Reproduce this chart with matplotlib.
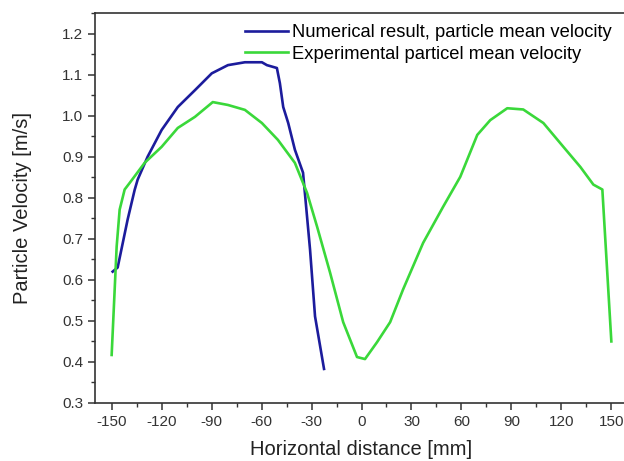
import matplotlib
matplotlib.use("Agg")
from matplotlib import pyplot as plt
from matplotlib.ticker import MultipleLocator

plt.rcParams["font.family"] = ["Liberation Sans", "DejaVu Sans"]
plt.rcParams["axes.unicode_minus"] = False

# numerical result (blue)
num_x = [-149.4, -146.4, -140.4, -136.2, -134.4, -128.4, -120, -110.3, -100, -89.9,
         -80.2, -70, -59.8, -56.8, -50.8, -49, -47, -44, -40, -35.1, -30.9, -27.9, -22.5]
num_y = [0.620, 0.630, 0.747, 0.819, 0.844, 0.900, 0.965, 1.021, 1.062, 1.103,
         1.123, 1.130, 1.130, 1.123, 1.116, 1.079, 1.021, 0.982, 0.917, 0.861, 0.674, 0.511, 0.383]

# experimental (green)
exp_x = [-150, -147, -145.2, -142.2, -139.2, -130.2, -120, -110.3, -100, -89.3, -80.2,
         -70, -59.8, -50.2, -40, -32.7, -26.7, -18.9, -11, -2.7, 2.1, 9.3, 17.2, 25,
         37, 49, 59.3, 69.5, 77.3, 87.5, 97.1, 109.2, 121.2, 131.4, 139.2, 144.6, 150]
exp_y = [0.417, 0.681, 0.771, 0.820, 0.836, 0.885, 0.924, 0.970, 0.997, 1.033, 1.026,
         1.014, 0.982, 0.941, 0.885, 0.812, 0.730, 0.618, 0.497, 0.412, 0.407, 0.448, 0.497, 0.577,
         0.690, 0.778, 0.851, 0.953, 0.989, 1.018, 1.015, 0.982, 0.924, 0.875, 0.832, 0.820, 0.450]

fig = plt.figure(figsize=(6.24, 4.61), dpi=100)
ax = fig.add_axes([95 / 624, 58 / 461, 533 / 624, 390 / 461])

ax.plot(num_x, num_y, color="#1c1c9c", linewidth=1.9,
        label="Numerical result, particle mean velocity")
ax.plot(exp_x, exp_y, color="#3ad83a", linewidth=1.9,
        label="Experimental particel mean velocity")

ax.set_xlim(-160, 160)
ax.set_ylim(0.3, 1.25)
ax.xaxis.set_major_locator(MultipleLocator(30))
ax.xaxis.set_minor_locator(MultipleLocator(15))
ax.yaxis.set_major_locator(MultipleLocator(0.1))
ax.yaxis.set_minor_locator(MultipleLocator(0.05))
ax.yaxis.set_major_formatter(plt.FuncFormatter(lambda v, p: f"{v:.1f}"))

for s in ax.spines.values():
    s.set_color("#333333")
    s.set_linewidth(1.2)
ax.tick_params(which="major", direction="out", length=5, width=1.1, color="#333333",
               labelsize=11, labelcolor="#333333")
ax.tick_params(which="minor", direction="out", length=3, width=1.0, color="#333333")

ax.set_xlabel("Horizontal distance [mm]", fontsize=14.5, color="#222222", labelpad=8)
ax.set_ylabel("Particle Velocity [m/s]", fontsize=14.5, color="#222222", labelpad=22)

ax.legend(loc="upper left", bbox_to_anchor=(245 / 624, (461 - 24) / 461),
          bbox_transform=fig.transFigure, frameon=False, fontsize=13.2,
          borderpad=0, borderaxespad=0, handlelength=2.35, handletextpad=0.2,
          labelspacing=0.25)

plt.savefig("out.png", dpi=100)
